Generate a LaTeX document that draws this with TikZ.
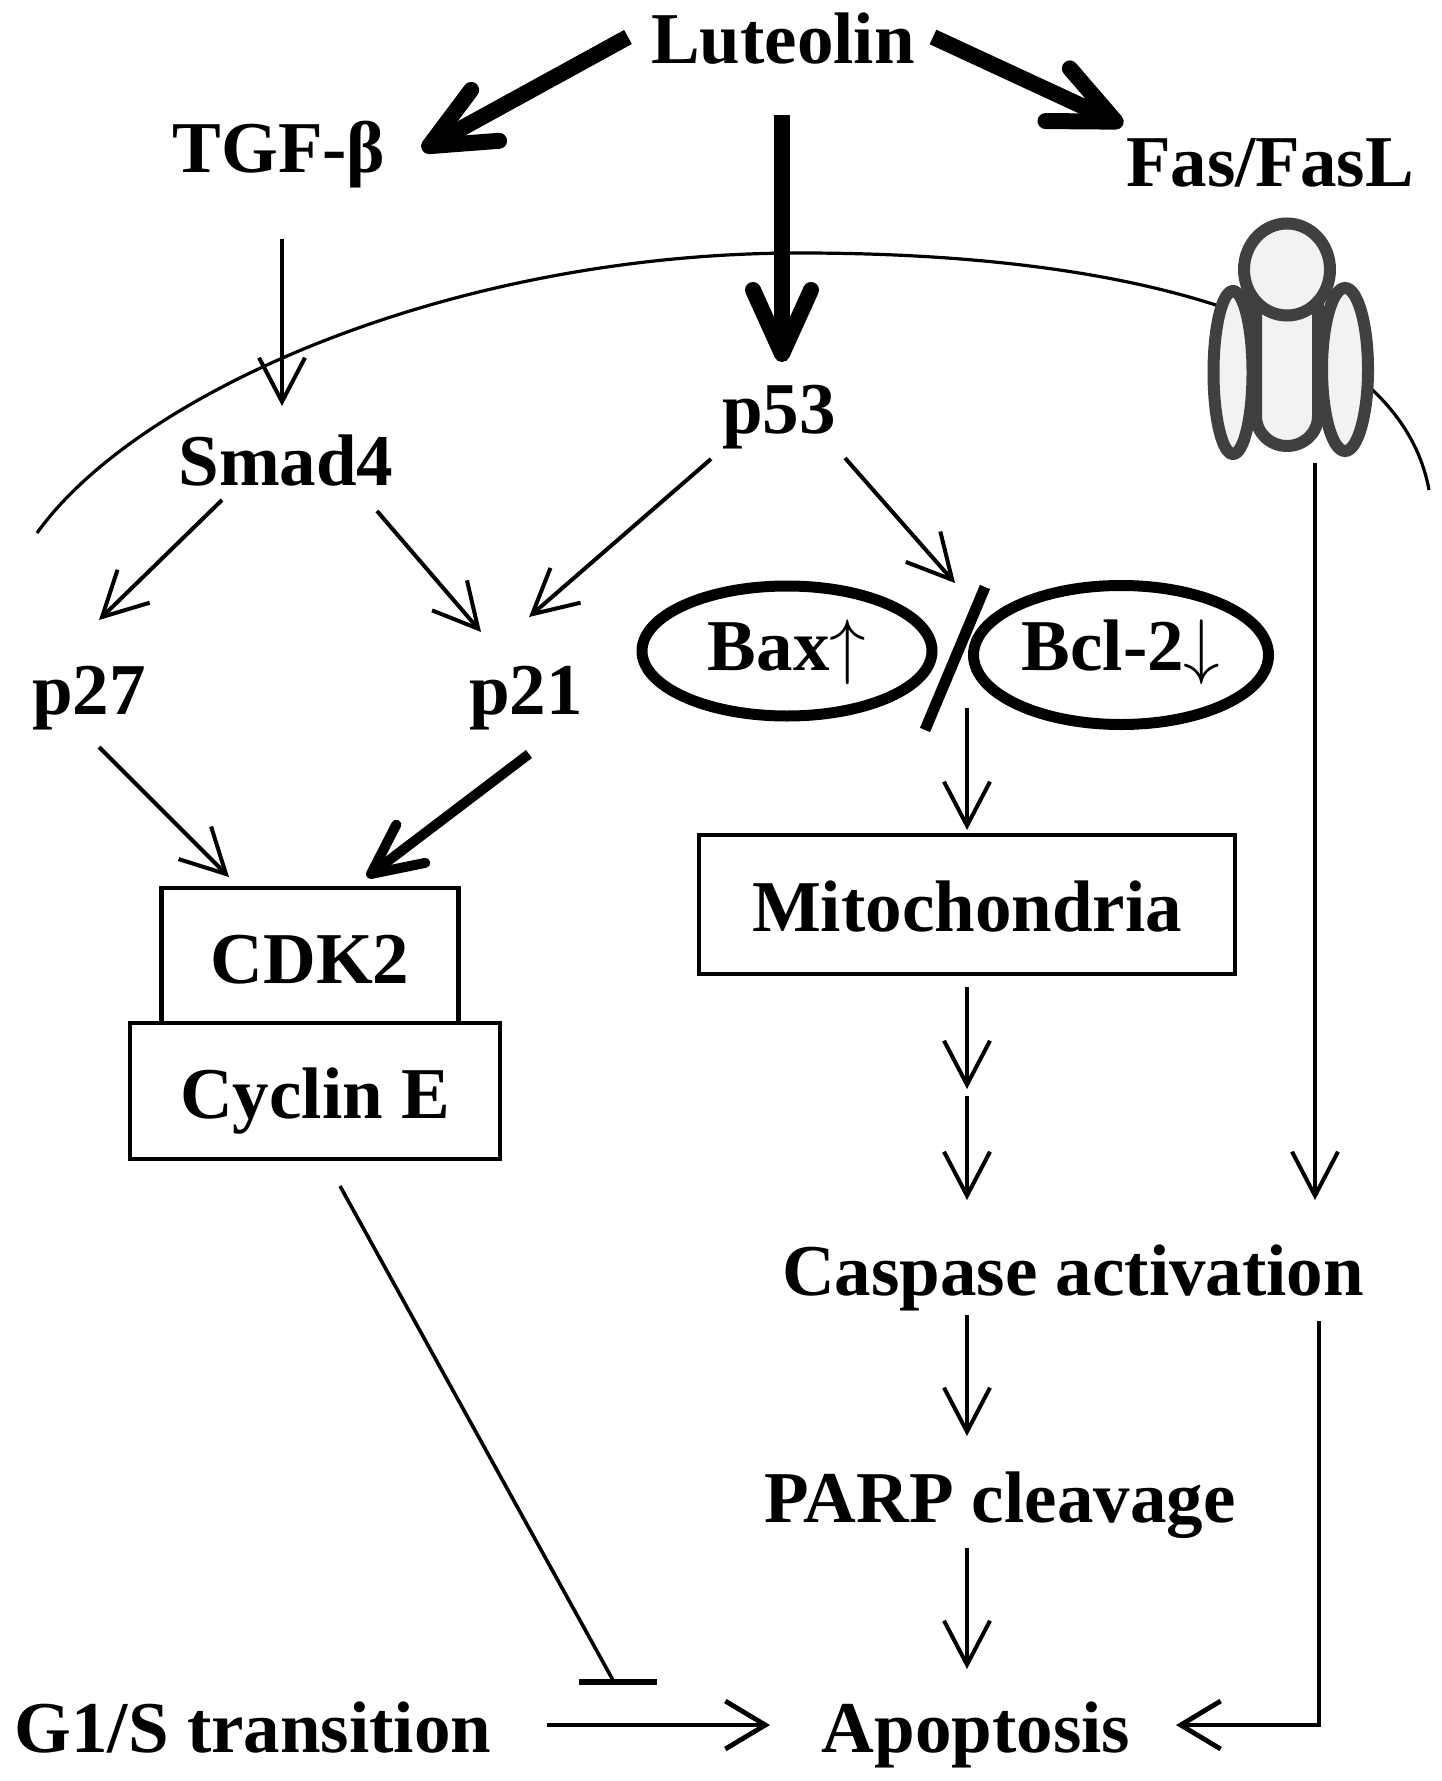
\documentclass[tikz,border=0pt]{standalone}
\usepackage{graphicx}
\usepackage{fontspec}
\setmainfont{Liberation Serif}
\usetikzlibrary{arrows.meta,calc,shapes.geometric}
\definecolor{recgray}{HTML}{404040}
\definecolor{recfill}{HTML}{F2F2F2}
\newcommand{\bigup}{\scalebox{3.65}{\fontsize{10}{12}\selectfont$\uparrow$}}
\newcommand{\bigdown}{\scalebox{3.65}{\fontsize{10}{12}\selectfont$\downarrow$}}
\begin{document}
\begin{tikzpicture}[x=0.5pt,y=-0.5pt,
  lbl/.style={font=\fontsize{36.5}{40}\selectfont\bfseries, inner sep=0pt, outer sep=0pt, anchor=base},
  arrthin/.style={line width=2pt, -{Straight Barb[length=22pt,width=23pt]}},
  arrthick/.style={line width=8pt, -{Straight Barb[length=32pt,width=29pt,round]}},
  arrmed/.style={line width=5pt, -{Straight Barb[length=25pt,width=24pt,round]}},
  arrlow/.style={line width=2.4pt, -{Straight Barb[length=20pt,width=24pt]}},
  boxn/.style={draw, line width=2.2pt, inner sep=0pt, outer sep=0pt, fill=white,
    font=\fontsize{36.5}{40}\selectfont\bfseries, text height=27pt, text depth=0pt},
  elln/.style={ellipse, draw, line width=5.5pt, inner sep=0pt, outer sep=0pt,
    font=\fontsize{36.5}{40}\selectfont\bfseries, text depth=0pt},
  recpart/.style={draw=recgray, line width=6pt, fill=recfill}
]
\useasboundingbox (0,0) rectangle (1441,1781);
\fill[white] (0,0) rectangle (1441,1781);

% membrane
\draw[line width=1.6pt] (37,533) .. controls (137,393) and (450,253) .. (800,253)
  .. controls (1150,253) and (1400,330) .. (1429,490);

% receptor
\draw[recpart] (1233,372.5) ellipse [x radius=19.5, y radius=81.5];
\draw[recpart] (1345,369.5) ellipse [x radius=23, y radius=81.5];
\draw[recpart] (1256,300) -- (1256,416) to[out=-90,in=180] (1287,446) to[out=0,in=-90] (1318,416) -- (1318,300);
\draw[recpart] (1287,269.5) ellipse [x radius=43, y radius=46];
\coordinate (recbot) at (1315,463);

% text nodes
\node[lbl] (lut) at (783,64) {Luteolin};
\node[lbl] (tgf) at (279,173) {TGF-β};
\node[lbl] (fas) at (1270,187) {Fas/FasL};
\node[lbl] (p53) at (779,433) {p53};
\node[lbl] (smad) at (286,485) {Smad4};
\node[lbl] (p27) at (89,714) {p27};
\node[lbl] (p21) at (526,714) {p21};
\node[elln, minimum width=145pt, minimum height=65pt, text height=19pt] (bax) at (787,651) {Bax\bigup};
\node[elln, minimum width=147.5pt, minimum height=69.5pt, text height=15pt] (bcl) at (1121,655) {Bcl-2\bigdown};
\node[boxn, minimum width=148.5pt, minimum height=68pt] (cdk) at (310,956) {CDK2};
\node[boxn, minimum width=185pt, minimum height=68pt] (cyc) at (315,1091) {Cyclin E};
\node[boxn, minimum width=268pt, minimum height=69.5pt] (mito) at (967,904.5) {Mitochondria};
\node[lbl] (casp) at (1073,1295) {Caspase activation};
\node[lbl] (parp) at (1000,1522) {PARP cleavage};
\node[lbl] (apop) at (976,1752) {Apoptosis};
\node[lbl] (g1s) at (253,1752) {G1/S transition};

% slash between Bax and Bcl-2
\coordinate (sltop) at (985,587);
\coordinate (slbot) at (925,730);
\draw[line width=5.5pt] (sltop) -- (slbot);

% thick arrows from Luteolin
\draw[arrthick] ($(lut.base)+(-155,-27)$) -- ($(tgf.base)+(143,-23)$);
\draw[arrthick] ($(lut.base)+(150,-27)$) -- ($(fas.base)+(-147,-62)$);
\draw[arrthick] ($(lut.base)+(-1,51)$) -- ($(p53.base)+(3,-71)$);

% thin arrows
\draw[arrthin] ($(tgf.base)+(3,66)$) -- ($(smad.base)+(-4,-79)$);
\draw[arrthin] ($(smad.base)+(-64,15)$) -- ($(p27.base)+(10,-94)$);
\draw[arrthin] ($(smad.base)+(91,26)$) -- ($(p21.base)+(-45,-82)$);
\draw[arrthin] ($(p53.base)+(-68,26)$) -- ($(p21.base)+(3,-97)$);
\draw[arrthin] ($(p53.base)+(66,25)$) -- ($(sltop)+(-30,-4)$);
\draw[arrthin] ($(slbot)+(42,-22)$) -- ($(mito.north)+(0,-5)$);
\draw[arrthin] ($(p27.base)+(10,33)$) -- ($(cdk.north)+(-81,-11)$);
\draw[arrmed] ($(p21.base)+(3,40)$) -- ($(cdk.north)+(57,-11)$);

\coordinate (mid) at (967,1092);
\draw[arrthin] ($(mito.south)+(0,13)$) -- ($(mid)+(0,-3)$);
\draw[arrthin] ($(mid)+(0,4)$) -- ($(casp.base)+(-106,-95)$);
\draw[arrthin] (recbot) -- ($(casp.base)+(242,-95)$);
\draw[arrthin] ($(casp.base)+(-106,20)$) -- ($(parp.base)+(-33,-86)$);
\draw[arrthin] ($(parp.base)+(-33,26)$) -- ($(apop.base)+(-9,-83)$);
\draw[arrlow] ($(casp.base)+(246,26)$) |- ($(apop.base)+(200,-27)$);
\draw[arrlow] ($(g1s.base)+(294,-27)$) -- ($(apop.base)+(-206,-27)$);

% inhibition
\coordinate (inh) at (614,1682);
\draw[line width=1.8pt] ($(cyc.south)+(25,27)$) -- (inh);
\draw[line width=3.2pt] ($(inh)+(-35,0)$) -- ($(inh)+(43,0)$);
\end{tikzpicture}
\end{document}
